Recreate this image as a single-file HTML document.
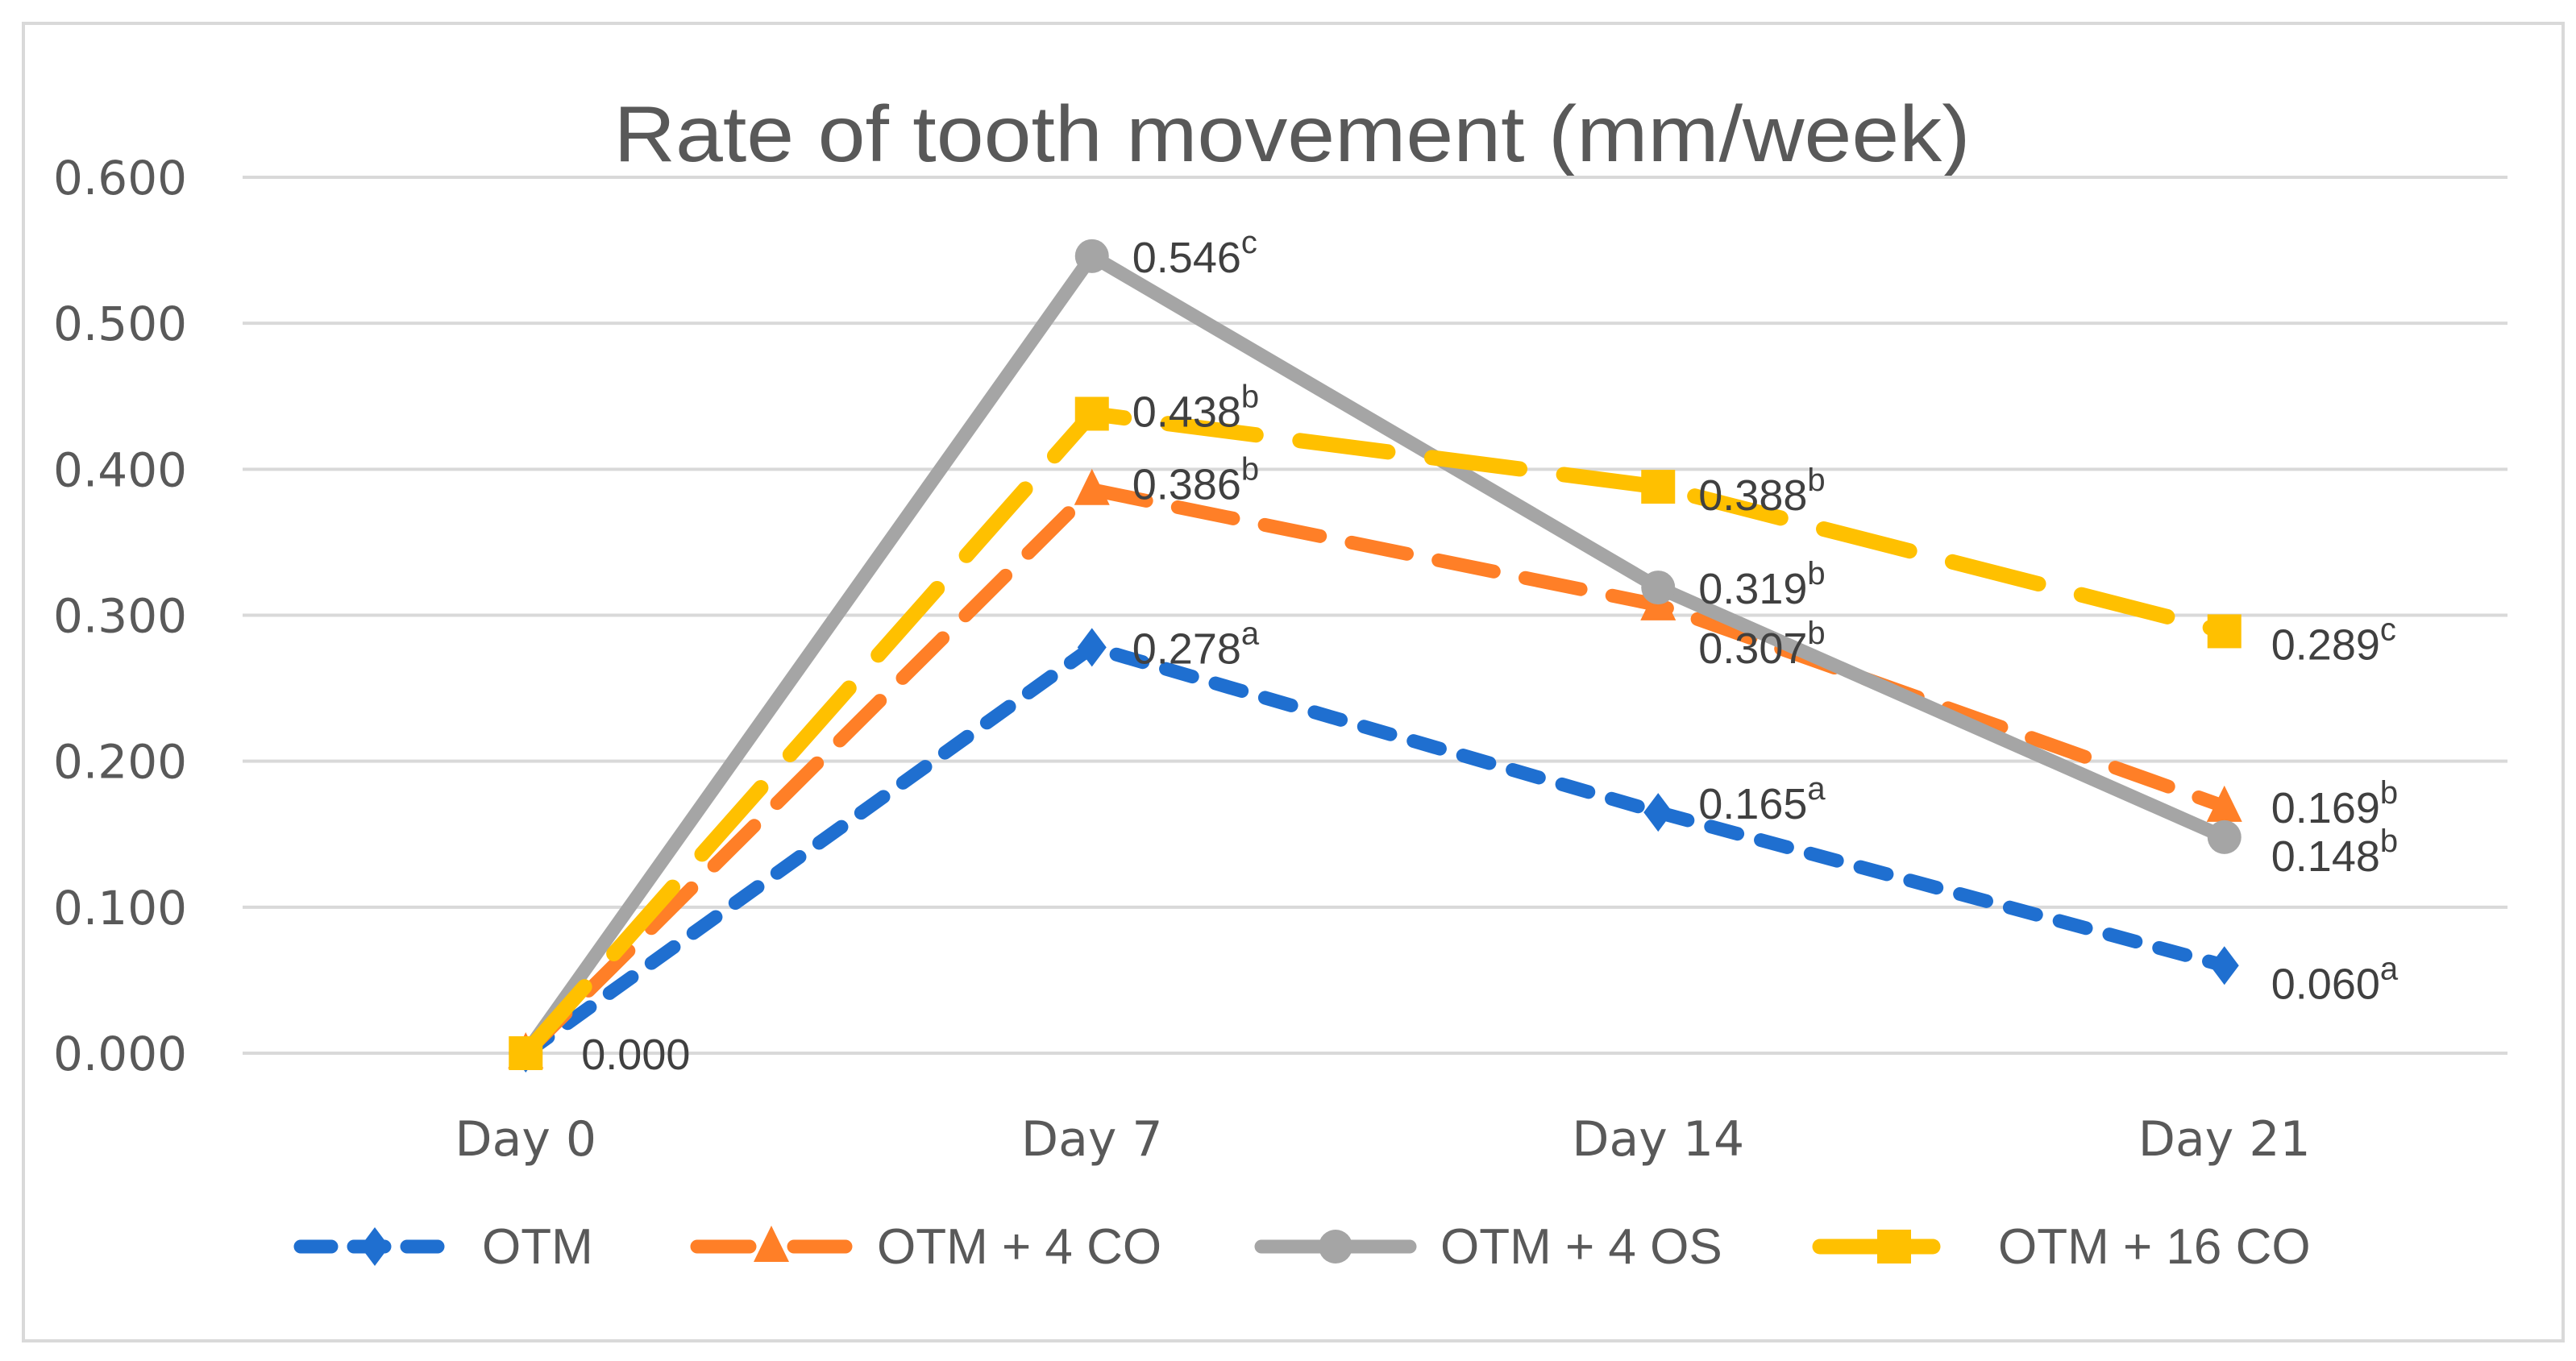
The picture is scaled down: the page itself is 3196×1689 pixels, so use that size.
<!DOCTYPE html>
<html><head><meta charset="utf-8"><style>
html,body{margin:0;padding:0;background:#fff;}
svg{display:block;}
</style></head><body>
<svg id="chart" width="3196" height="1689" viewBox="0 0 3196 1689" xmlns="http://www.w3.org/2000/svg">
<rect x="29" y="29" width="3151" height="1635" fill="#fff" stroke="#d9d9d9" stroke-width="4"/>
<text x="1603" y="200" text-anchor="middle" font-family="Liberation Sans, sans-serif" font-size="98" fill="#595959" textLength="1683" lengthAdjust="spacingAndGlyphs">Rate of tooth movement (mm/week)</text>
<g id="grid"></g><g id="series"></g><g id="labels"></g><g id="legend"></g>
</svg>
<script>
const categories = ["Day 0","Day 7","Day 14","Day 21"];
const yTicks = [0,0.1,0.2,0.3,0.4,0.5,0.6];
const seriesNames = ["OTM","OTM + 4 CO","OTM + 4 OS","OTM + 16 CO"];
const otm = [0.000,0.278,0.165,0.060];
const otm4co = [0.000,0.386,0.307,0.169];
const otm4os = [0.000,0.546,0.319,0.148];
const otm16co = [0.000,0.438,0.388,0.289];
const otmSig = ["","a","a","a"];
const otm4coSig = ["","b","b","b"];
const otm4osSig = ["","c","b","b"];
const otm16coSig = ["","b","b","c"];

const NS="http://www.w3.org/2000/svg";
const X0=301, X1=3111, Y0=1307, Y1=220, YMAX=0.6;
const band=(X1-X0)/categories.length;
const xs=i=>X0+band*(i+0.5);
const ys=v=>Y0-(v/YMAX)*(Y0-Y1);
function mk(tag,attrs,parent){const e=document.createElementNS(NS,tag);for(const k in attrs)e.setAttribute(k,attrs[k]);parent.appendChild(e);return e;}
const grid=document.getElementById('grid');
yTicks.forEach(t=>{
  const l=mk('line',{x1:X0,x2:X1,y1:ys(t),y2:ys(t),stroke:'#d9d9d9','stroke-width':4},grid);
  
  
  const tx=mk('text',{x:232,y:ys(t)+21,'text-anchor':'end','font-family':'DejaVu Sans, sans-serif','font-size':58,fill:'#595959'},grid);
  tx.textContent=t.toFixed(3);
  
  
});
categories.forEach((c,i)=>{
  const tx=mk('text',{x:xs(i),y:1434,'text-anchor':'middle','font-family':'DejaVu Sans, sans-serif','font-size':60,fill:'#595959'},grid);
  tx.textContent=c;
  
  
});
const styles=[
 {vals:otm,sig:otmSig,color:'#1f6fd0',dash:'34 30',w:17,marker:'diamond'},
 {vals:otm4co,sig:otm4coSig,color:'#ff7f27',dash:'70 40',w:17,marker:'triangle'},
 {vals:otm4os,sig:otm4osSig,color:'#a5a5a5',dash:'none',w:17,marker:'circle'},
 {vals:otm16co,sig:otm16coSig,color:'#ffc000',dash:'110 55',w:19,marker:'square'}
];
const labelDy=[[0,0,-12,21],[0,-8,52,0],[0,0,0,22],[0,-4,9,15]];
const labelDx=[69,50,50,58];
function drawMarker(type,x,y,color,g,s){
  let m;
  if(type==='diamond') m=mk('polygon',{points:`${x},${y-24*s} ${x+18*s},${y} ${x},${y+24*s} ${x-18*s},${y}`,fill:color},g);
  else if(type==='triangle') m=mk('polygon',{points:`${x},${y-26*s} ${x+22*s},${y+19*s} ${x-22*s},${y+19*s}`,fill:color},g);
  else if(type==='circle') m=mk('circle',{cx:x,cy:y,r:21*s,fill:color},g);
  else m=mk('rect',{x:x-21*s,y:y-21*s,width:42*s,height:42*s,fill:color},g);
  return m;
}
const sg=document.getElementById('series'), lg=document.getElementById('labels');
styles.forEach((st,si)=>{
  const pts=st.vals.map((v,i)=>xs(i)+','+ys(v)).join(' ');
  const pl=mk('polyline',{points:pts,fill:'none',stroke:st.color,'stroke-width':st.w,'stroke-linecap':'round','stroke-linejoin':'round'},sg);
  if(st.dash!=='none') pl.setAttribute('stroke-dasharray',st.dash);
  
  
  st.vals.forEach((v,i)=>{
    const m=drawMarker(st.marker,xs(i),ys(v),st.color,sg,1);
    
    
  });
});
styles.forEach((st,si)=>{
  st.vals.forEach((v,i)=>{
    if(i===0 && si!==0) return;
    const t=mk('text',{x:xs(i)+labelDx[i],y:ys(v)+labelDy[si][i]+20,'font-family':'Liberation Sans, sans-serif','font-size':54,fill:'#404040'},lg);
    t.textContent=v.toFixed(3);
    if(st.sig[i]){const sp=mk('tspan',{'font-size':40,dy:-24},t);sp.textContent=st.sig[i];}
    
    
  });
});
const legend=document.getElementById('legend');
const legX=[365,857,1557,2250], legTx=[598,1088,1787,2479], LY=1547;
styles.forEach((st,si)=>{
  const g=mk('g',{},legend);
  
  
  const l=mk('line',{x1:legX[si]+8,x2:legX[si]+192,y1:LY,y2:LY,stroke:st.color,'stroke-width':st.w,'stroke-linecap':'round'},g);
  if(si===0) l.setAttribute('stroke-dasharray','38 28');
  if(si===1) l.setAttribute('stroke-dasharray','65 55');
  if(si===3) l.setAttribute('stroke-dasharray','140 60');
  drawMarker(st.marker,legX[si]+100,LY,st.color,g,1);
  const t=mk('text',{x:legTx[si],y:LY+21,'font-family':'Liberation Sans, sans-serif','font-size':62,fill:'#595959'},g);
  t.textContent=seriesNames[si];
});
</script>
</body></html>
